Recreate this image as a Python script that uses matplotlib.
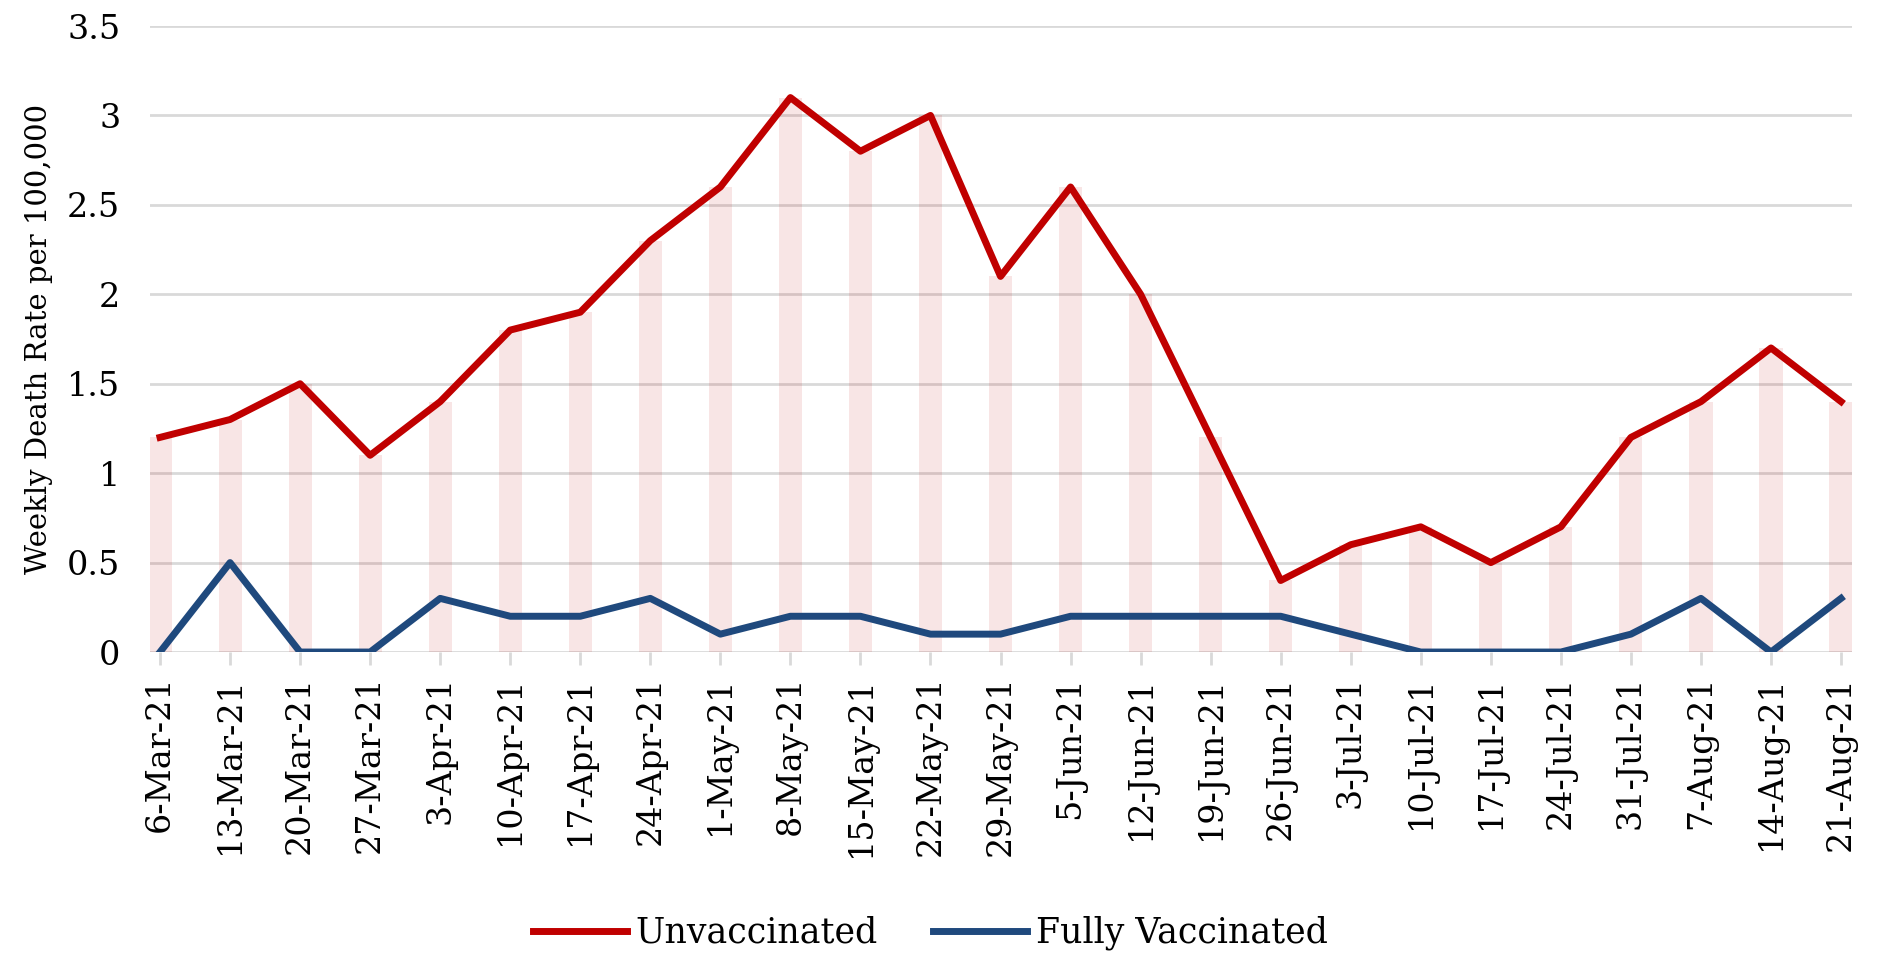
import numpy as np
import matplotlib
matplotlib.use("Agg")
from matplotlib import pyplot as plt

# week ending dates
weeks = ['6-Mar-21', '13-Mar-21', '20-Mar-21', '27-Mar-21', '3-Apr-21', '10-Apr-21',
         '17-Apr-21', '24-Apr-21', '1-May-21', '8-May-21', '15-May-21', '22-May-21',
         '29-May-21', '5-Jun-21', '12-Jun-21', '19-Jun-21', '26-Jun-21', '3-Jul-21',
         '10-Jul-21', '17-Jul-21', '24-Jul-21', '31-Jul-21', '7-Aug-21', '14-Aug-21',
         '21-Aug-21']

unvaccinated = [1.2, 1.3, 1.5, 1.1, 1.4, 1.8, 1.9, 2.3, 2.6, 3.1, 2.8, 3.0, 2.1,
                2.6, 2.0, 1.2, 0.4, 0.6, 0.7, 0.5, 0.7, 1.2, 1.4, 1.7, 1.4]
fully_vaccinated = [0, 0.5, 0, 0, 0.3, 0.2, 0.2, 0.3, 0.1, 0.2, 0.2, 0.1, 0.1,
                    0.2, 0.2, 0.2, 0.2, 0.1, 0, 0, 0, 0.1, 0.3, 0, 0.3]

y_ticks = [0, 0.5, 1, 1.5, 2, 2.5, 3, 3.5]

plt.rcParams['font.family'] = ['DejaVu Serif']

fig = plt.figure(figsize=(18.83, 9.6), dpi=100)
ax = fig.add_axes([0.0794, 0.3208, 0.9039, 0.6521])

x = np.arange(len(weeks))

# light bars under the unvaccinated line
ax.bar(x, unvaccinated, width=0.33, color='#c00000', alpha=0.1, zorder=2)

ax.plot(x, fully_vaccinated, color='#1f497d', linewidth=5, zorder=3,
        solid_joinstyle='round', label='Fully Vaccinated')
ax.plot(x, unvaccinated, color='#c00000', linewidth=5, zorder=4,
        solid_joinstyle='round', label='Unvaccinated')

ax.set_xlim(-0.15, len(weeks) - 1 + 0.15)
ax.set_ylim(0, 3.5)
ax.set_yticks(y_ticks)
ax.set_yticklabels([f'{v:g}' for v in y_ticks], fontsize=24)
ax.set_xticks(x)
ax.set_xticklabels(weeks, rotation=90, fontsize=24)

ax.grid(axis='y', color='#d9d9d9', linewidth=2, zorder=1)
ax.set_axisbelow(True)
for s in ax.spines.values():
    s.set_visible(False)
ax.tick_params(axis='y', length=0, pad=21)
ax.tick_params(axis='x', length=9, width=2, color='#d9d9d9', pad=8)

ax.set_ylabel('Weekly Death Rate per 100,000', fontsize=21, labelpad=10)

handles, labels = ax.get_legend_handles_labels()
fig.legend(handles[::-1], labels[::-1], loc='center', bbox_to_anchor=(0.494, 0.028),
           ncol=2, frameon=False, fontsize=25, handlelength=2.7, columnspacing=1.6,
           handletextpad=0.25)

fig.savefig('out.png', dpi=100)
